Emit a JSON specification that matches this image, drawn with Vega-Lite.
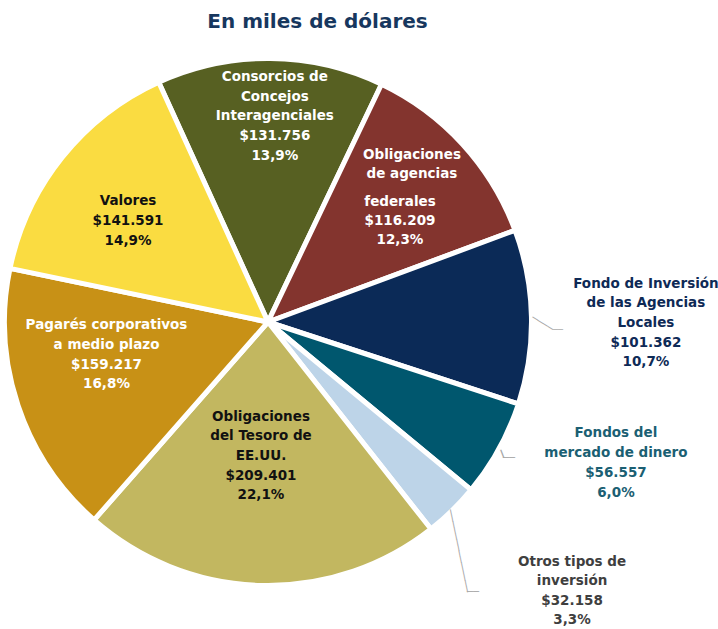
{
  "$schema": "https://vega.github.io/schema/vega-lite/v6.json",
  "autosize": "none",
  "width": 536,
  "height": 536,
  "padding": {"top": 54, "left": 0, "right": 182, "bottom": 39},
  "background": "white",
  "view": {"stroke": null},
  "title": {"text": "En miles de dólares", "font": "DejaVu Sans", "fontSize": 20, "fontWeight": "bold", "color": "#17375E", "anchor": "middle", "frame": "group", "dx": 49.5, "offset": -189.5, "baseline": "alphabetic"},
  "data": {"values": [
    {"categoria": "Consorcios de Concejos Interagenciales", "valor": 131756, "orden": 1, "etiqueta": "Consorcios de\nConcejos\nInteragenciales\n$131.756\n13,9%", "etiqueta2": ""},
    {"categoria": "Obligaciones de agencias federales", "valor": 116209, "orden": 2, "etiqueta": "Obligaciones\nde agencias", "etiqueta2": "federales\n$116.209\n12,3%"},
    {"categoria": "Fondo de Inversión de las Agencias Locales", "valor": 101362, "orden": 3, "etiqueta": "Fondo de Inversión\nde las Agencias\nLocales\n$101.362\n10,7%", "etiqueta2": ""},
    {"categoria": "Fondos del mercado de dinero", "valor": 56557, "orden": 4, "etiqueta": "Fondos del\nmercado de dinero\n$56.557\n6,0%", "etiqueta2": ""},
    {"categoria": "Otros tipos de inversión", "valor": 32158, "orden": 5, "etiqueta": "Otros tipos de\ninversión\n$32.158\n3,3%", "etiqueta2": ""},
    {"categoria": "Obligaciones del Tesoro de EE.UU.", "valor": 209401, "orden": 6, "etiqueta": "Obligaciones\ndel Tesoro de\nEE.UU.\n$209.401\n22,1%", "etiqueta2": ""},
    {"categoria": "Pagarés corporativos a medio plazo", "valor": 159217, "orden": 7, "etiqueta": "Pagarés corporativos\na medio plazo\n$159.217\n16,8%", "etiqueta2": ""},
    {"categoria": "Valores", "valor": 141591, "orden": 8, "etiqueta": "Valores\n$141.591\n14,9%", "etiqueta2": ""}
  ]},
  "encoding": {
    "theta": {"field": "valor", "type": "quantitative", "stack": true, "scale": {"range": [-0.4276, 5.8556]}},
    "order": {"field": "orden", "type": "quantitative"}
  },
  "layer": [
    {"mark": {"type": "arc", "outerRadius": 263.5, "stroke": "white", "strokeWidth": 5},
     "encoding": {"color": {"field": "categoria", "type": "nominal", "legend": null,
       "scale": {"domain": ["Consorcios de Concejos Interagenciales", "Obligaciones de agencias federales", "Fondo de Inversión de las Agencias Locales", "Fondos del mercado de dinero", "Otros tipos de inversión", "Obligaciones del Tesoro de EE.UU.", "Pagarés corporativos a medio plazo", "Valores"],
                 "range": ["#576022", "#83342E", "#0B2A57", "#00576E", "#BDD4E8", "#C2B760", "#C89116", "#FADC41"]}}}},
    {"mark": {"type": "text", "radius": 205.5, "dx": 5, "dy": -39.4, "font": "DejaVu Sans", "fontSize": 13.5, "fontWeight": "bold", "lineBreak": "\n", "lineHeight": 19.7, "align": "center", "baseline": "middle", "fill": "#FFFFFF"},
     "encoding": {"text": {"condition": {"test": "datum.orden === 1", "field": "etiqueta", "type": "nominal"}, "value": ""}}},
    {"mark": {"type": "text", "radius": 214, "dx": -14, "dy": -22.5, "font": "DejaVu Sans", "fontSize": 13.5, "fontWeight": "bold", "lineBreak": "\n", "lineHeight": 19, "align": "center", "baseline": "middle", "fill": "#FFFFFF"},
     "encoding": {"text": {"condition": {"test": "datum.orden === 2", "field": "etiqueta", "type": "nominal"}, "value": ""}}},
    {"mark": {"type": "text", "radius": 167, "dx": 8.7, "dy": -7, "font": "DejaVu Sans", "fontSize": 13.5, "fontWeight": "bold", "lineBreak": "\n", "lineHeight": 19, "align": "center", "baseline": "middle", "fill": "#FFFFFF"},
     "encoding": {"text": {"condition": {"test": "datum.orden === 2", "field": "etiqueta2", "type": "nominal"}, "value": ""}}},
    {"mark": {"type": "text", "radius": 378, "dx": 0, "dy": -31, "font": "DejaVu Sans", "fontSize": 13.5, "fontWeight": "bold", "lineBreak": "\n", "lineHeight": 19.7, "align": "center", "baseline": "middle", "fill": "#0E2A56"},
     "encoding": {"text": {"condition": {"test": "datum.orden === 3", "field": "etiqueta", "type": "nominal"}, "value": ""}}},
    {"mark": {"type": "text", "radius": 375, "dx": 19.5, "dy": -69.5, "font": "DejaVu Sans", "fontSize": 13.5, "fontWeight": "bold", "lineBreak": "\n", "lineHeight": 19.7, "align": "center", "baseline": "middle", "fill": "#1B5F73"},
     "encoding": {"text": {"condition": {"test": "datum.orden === 4", "field": "etiqueta", "type": "nominal"}, "value": ""}}},
    {"mark": {"type": "text", "radius": 406, "dx": 20.5, "dy": -50.5, "font": "DejaVu Sans", "fontSize": 13.5, "fontWeight": "bold", "lineBreak": "\n", "lineHeight": 19.3, "align": "center", "baseline": "middle", "fill": "#3F3F3F"},
     "encoding": {"text": {"condition": {"test": "datum.orden === 5", "field": "etiqueta", "type": "nominal"}, "value": ""}}},
    {"mark": {"type": "text", "radius": 134, "dx": -3.4, "dy": -39.4, "font": "DejaVu Sans", "fontSize": 13.5, "fontWeight": "bold", "lineBreak": "\n", "lineHeight": 19.7, "align": "center", "baseline": "middle", "fill": "#111111"},
     "encoding": {"text": {"condition": {"test": "datum.orden === 6", "field": "etiqueta", "type": "nominal"}, "value": ""}}},
    {"mark": {"type": "text", "radius": 165, "dx": -5, "dy": -49, "font": "DejaVu Sans", "fontSize": 13.5, "fontWeight": "bold", "lineBreak": "\n", "lineHeight": 19.7, "align": "center", "baseline": "middle", "fill": "#FFFFFF"},
     "encoding": {"text": {"condition": {"test": "datum.orden === 7", "field": "etiqueta", "type": "nominal"}, "value": ""}}},
    {"mark": {"type": "text", "radius": 173, "dx": -4.8, "dy": -12.8, "font": "DejaVu Sans", "fontSize": 13.5, "fontWeight": "bold", "lineBreak": "\n", "lineHeight": 19.7, "align": "center", "baseline": "middle", "fill": "#111111"},
     "encoding": {"text": {"condition": {"test": "datum.orden === 8", "field": "etiqueta", "type": "nominal"}, "value": ""}}},
    {"mark": {"type": "text", "radius": 274.5, "dx": 3.64, "dy": 5.86, "angle": 31.8, "font": "DejaVu Sans", "fontSize": 10, "align": "center", "baseline": "middle", "fill": "#A6A6A6"},
     "encoding": {"text": {"condition": {"test": "datum.orden === 3", "value": "────"}, "value": ""}}},
    {"mark": {"type": "text", "radius": 290, "dx": 0, "dy": 13.7, "font": "DejaVu Sans", "fontSize": 8.3, "align": "center", "baseline": "middle", "fill": "#A6A6A6"},
     "encoding": {"text": {"condition": {"test": "datum.orden === 3", "value": "──"}, "value": ""}}},
    {"mark": {"type": "text", "radius": 268, "dx": 2.0, "dy": 2.04, "angle": 69.4, "font": "DejaVu Sans", "fontSize": 14, "align": "center", "baseline": "middle", "fill": "#A6A6A6"},
     "encoding": {"text": {"condition": {"test": "datum.orden === 4", "value": "─"}, "value": ""}}},
    {"mark": {"type": "text", "radius": 277, "dx": -1.6, "dy": 2.3, "font": "DejaVu Sans", "fontSize": 10, "align": "center", "baseline": "middle", "fill": "#A6A6A6"},
     "encoding": {"text": {"condition": {"test": "datum.orden === 4", "value": "──"}, "value": ""}}},
    {"mark": {"type": "text", "radius": 298, "dx": 11.8, "dy": 20.4, "angle": 78.3, "font": "DejaVu Sans", "fontSize": 10, "align": "center", "baseline": "middle", "fill": "#A6A6A6"},
     "encoding": {"text": {"condition": {"test": "datum.orden === 5", "value": "──────────────"}, "value": ""}}},
    {"mark": {"type": "text", "radius": 339, "dx": -31.8, "dy": 27.4, "font": "DejaVu Sans", "fontSize": 10, "align": "center", "baseline": "middle", "fill": "#A6A6A6"},
     "encoding": {"text": {"condition": {"test": "datum.orden === 5", "value": "──"}, "value": ""}}}
  ]
}
